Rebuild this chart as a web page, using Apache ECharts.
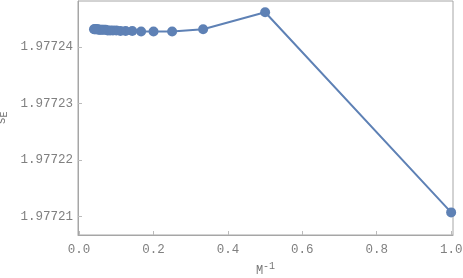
<!DOCTYPE html>
<html><head><meta charset="utf-8">
<script src="https://cdn.jsdelivr.net/npm/echarts@6/dist/echarts.min.js"></script>
<style>html,body{margin:0;padding:0;background:#fff}#c{width:463px;height:278px}</style>
</head><body><div id="c"></div>
<script>
const mValues = [1,2,3,4,5,6,7,8,9,10,11,12,13,14,15,16,17,18,19,20,21,22,23,24,25];
const sE = [1.9772107,1.9772461,1.9772431,1.9772427,1.9772427,1.9772427,1.9772428,1.9772428,1.9772428,1.9772429,1.9772429,1.9772429,1.9772429,1.9772430,1.9772430,1.9772430,1.9772430,1.9772430,1.9772430,1.9772431,1.9772431,1.9772431,1.9772431,1.9772431,1.9772431];
const xTicks = [0, 0.2, 0.4, 0.6, 0.8, 1.0];
const yTicks = [1.97721, 1.97722, 1.97723, 1.97724];

const pts = mValues.map((m, i) => [1 / m, sE[i]]);
const font = 'Liberation Mono';
const chart = echarts.init(document.getElementById('c'));
chart.setOption({
  animation: false,
  grid: {left: 78, right: 10, top: 1, bottom: 43, show: true, borderColor: '#a6a6a6', borderWidth: 1, containLabel: false, outerBoundsMode: 'none'},
  xAxis: {
    type: 'value', min: -0.003, max: 1.005,
    name: '{b|M}{s|-1}', nameLocation: 'middle', nameGap: 24,
    nameTextStyle: {rich: {b: {fontFamily: font, fontSize: 12, color: '#777', padding: [6,0,0,0]}, s: {fontFamily: font, fontSize: 10, color: '#777', padding: [0,0,4,0]}}},
    axisLine: {show: true, onZero: false, lineStyle: {color: '#a6a6a6'}},
    axisTick: {show: true, inside: true, length: 4, customValues: xTicks, lineStyle: {color: '#bbb'}},
    axisLabel: {customValues: xTicks, formatter: v => v.toFixed(1), fontFamily: font, fontSize: 12.5, color: '#808080', margin: 8},
    splitLine: {show: false}
  },
  yAxis: {
    type: 'value', min: 1.9772067, max: 1.9772481,
    name: '{b|s}{s|E}', nameLocation: 'middle', nameGap: 60, nameRotate: 90,
    nameTextStyle: {rich: {b: {fontFamily: font, fontSize: 12, color: '#777'}, s: {fontFamily: font, fontSize: 10, color: '#777', padding: [5,0,0,0]}}},
    axisLine: {show: true, onZero: false, lineStyle: {color: '#a6a6a6'}},
    axisTick: {show: true, inside: true, length: 4, customValues: yTicks, lineStyle: {color: '#bbb'}},
    axisLabel: {customValues: yTicks, formatter: v => v.toFixed(5), fontFamily: font, fontSize: 12.5, color: '#808080', margin: 5},
    splitLine: {show: false}
  },
  series: [{
    type: 'line', data: pts, symbol: 'circle', symbolSize: 10,
    itemStyle: {color: '#5e81b5'}, lineStyle: {color: '#5e81b5', width: 2}
  }]
});
</script></body></html>
